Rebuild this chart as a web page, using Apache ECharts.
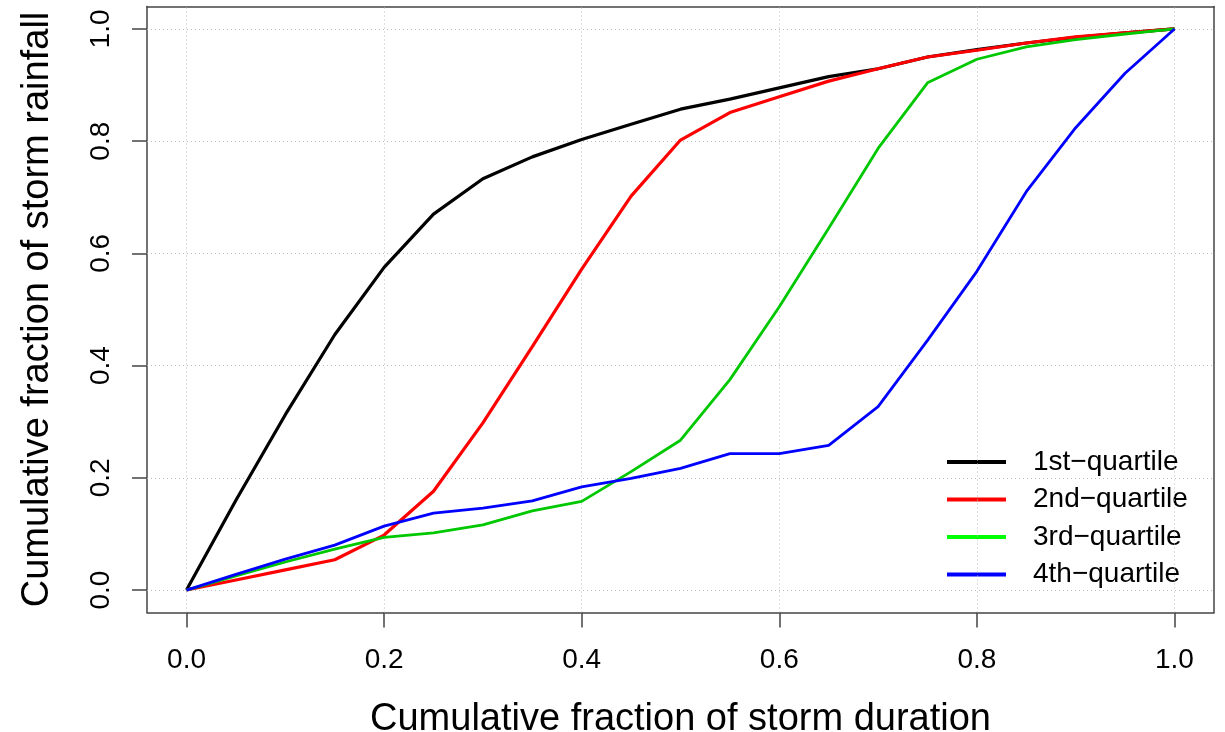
<!DOCTYPE html>
<html>
<head>
<meta charset="utf-8">
<script src="https://cdn.jsdelivr.net/npm/echarts@6/dist/echarts.min.js"></script>
<style>
html,body{margin:0;padding:0;background:#fff;}
#chart{width:1225px;height:732px;}
</style>
</head>
<body>
<div id="chart"></div>
<script>
// Data
const durationFraction = [0,0.05,0.1,0.15,0.2,0.25,0.3,0.35,0.4,0.45,0.5,0.55,0.6,0.65,0.7,0.75,0.8,0.85,0.9,0.95,1.0];
const q1 = [0,0.16,0.3125,0.455,0.575,0.67,0.733,0.772,0.803,0.83,0.857,0.875,0.895,0.915,0.929,0.95,0.963,0.975,0.985,0.993,1.0];
const q2 = [0,0.018,0.036,0.054,0.098,0.176,0.298,0.434,0.572,0.702,0.802,0.851,0.879,0.907,0.929,0.95,0.962,0.975,0.986,0.993,1.0];
const q3 = [0,0.025,0.05,0.073,0.094,0.102,0.116,0.141,0.158,0.211,0.267,0.375,0.505,0.645,0.787,0.904,0.946,0.968,0.981,0.991,1.0];
const q4 = [0,0.028,0.055,0.08,0.114,0.137,0.146,0.159,0.184,0.199,0.217,0.243,0.243,0.258,0.327,0.445,0.568,0.71,0.824,0.921,1.0];
const seriesNames = ['1st\u2212quartile','2nd\u2212quartile','3rd\u2212quartile','4th\u2212quartile'];
const tickValues = [0,0.2,0.4,0.6,0.8,1.0];
const xTitle = 'Cumulative fraction of storm duration';
const yTitle = 'Cumulative fraction of storm rainfall';

const FONT = '"Liberation Sans", Arial, sans-serif';
const pair = ys => durationFraction.map((x,i)=>[x, ys[i]]);

const chart = echarts.init(document.getElementById('chart'), null, {renderer:'canvas'});

const gridLineStyle = {color:'#bdbdbd', width:1, type:[1,3]};
const markLines = [];
tickValues.forEach(v=>{ markLines.push({xAxis:v}); markLines.push({yAxis:v}); });

const baseAxis = {
  min:-0.04, max:1.04,
  splitLine:{show:false},
  axisLine:{show:true, onZero:false, lineStyle:{color:'#444', width:1.5}},
};

chart.setOption({
  animation:false,
  backgroundColor:'#ffffff',
  grid:{left:147, top:6.5, width:1067, height:606, containLabel:false, outerBoundsMode:'none'},
  xAxis:[
    Object.assign({}, baseAxis, {
      type:'value', position:'bottom',
      axisTick:{show:true, length:15, customValues:tickValues, lineStyle:{color:'#444', width:1.5}},
      axisLabel:{customValues:tickValues, formatter:v=>v.toFixed(1), fontSize:28, color:'#000', fontFamily:FONT, margin:34},
      name:xTitle, nameLocation:'middle', nameGap:88,
      nameTextStyle:{fontSize:38, color:'#000', fontFamily:FONT}
    }),
    Object.assign({}, baseAxis, {
      type:'value', position:'top',
      axisTick:{show:false}, axisLabel:{show:false}
    })
  ],
  yAxis:[
    Object.assign({}, baseAxis, {
      type:'value', position:'left',
      axisTick:{show:true, length:15, customValues:tickValues, lineStyle:{color:'#444', width:1.5}},
      axisLabel:{customValues:tickValues, formatter:v=>v.toFixed(1), fontSize:28, color:'#000', fontFamily:FONT, rotate:90, margin:32},
      name:yTitle, nameLocation:'middle', nameGap:90, nameRotate:90,
      nameTextStyle:{fontSize:38, color:'#000', fontFamily:FONT}
    }),
    Object.assign({}, baseAxis, {
      type:'value', position:'right',
      axisTick:{show:false}, axisLabel:{show:false}
    })
  ],
  legend:{
    orient:'vertical', left:947, top:447, padding:0,
    itemWidth:59, itemHeight:4, itemGap:7.5, icon:'rect',
    textStyle:{fontSize:28, color:'#000', fontFamily:FONT, lineHeight:30, padding:[0,0,0,22]},
    data:[
      {name:seriesNames[0], itemStyle:{color:'#000000'}},
      {name:seriesNames[1], itemStyle:{color:'#ff0000'}},
      {name:seriesNames[2], itemStyle:{color:'#00ff00'}},
      {name:seriesNames[3], itemStyle:{color:'#0000ff'}}
    ]
  },
  series:[
    {
      name:'gridlines', type:'line', data:[], silent:true, z:1,
      markLine:{silent:true, symbol:'none', label:{show:false}, lineStyle:gridLineStyle, data:markLines, animation:false}
    },
    {name:seriesNames[0], type:'line', data:pair(q1), showSymbol:false, symbol:'none', z:5, lineStyle:{color:'#000000', width:3.2}, itemStyle:{color:'#000000'}},
    {name:seriesNames[1], type:'line', data:pair(q2), showSymbol:false, symbol:'none', z:5, lineStyle:{color:'#ff0000', width:3.2}, itemStyle:{color:'#ff0000'}},
    {name:seriesNames[2], type:'line', data:pair(q3), showSymbol:false, symbol:'none', z:5, lineStyle:{color:'#00c800', width:2.8}, itemStyle:{color:'#00c800'}},
    {name:seriesNames[3], type:'line', data:pair(q4), showSymbol:false, symbol:'none', z:5, lineStyle:{color:'#0000ff', width:2.8}, itemStyle:{color:'#0000ff'}}
  ]
});
</script>
</body>
</html>
